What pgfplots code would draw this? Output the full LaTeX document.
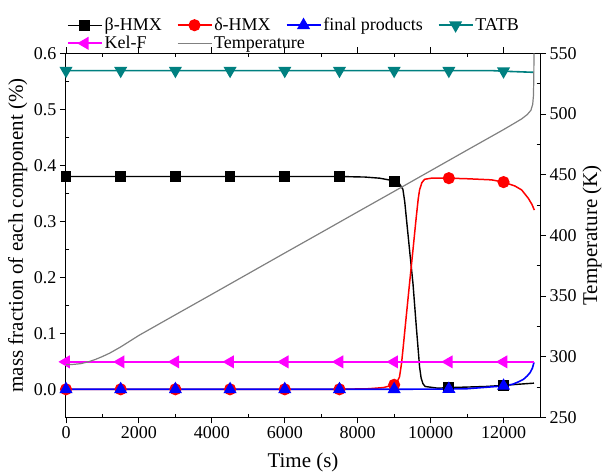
\documentclass[border=0pt]{standalone}
\usepackage{fontspec}
\setmainfont{Liberation Serif}
\usepackage{pgfplots}
\pgfplotsset{compat=1.18}
\definecolor{tatb}{RGB}{0,128,128}
\definecolor{kelf}{RGB}{255,0,255}
\definecolor{tgray}{RGB}{128,128,128}

\pgfplotsset{
  common/.style={
    scale only axis, width=474pt, height=364pt,
    xmin=0, xmax=13000,
    clip=false,
    tick align=outside,
    major tick length=6pt,
    minor tick length=-3.5pt,
    every tick/.style={black, line width=0.9pt},
    axis line style={line width=1pt},
    tick label style={font=\fontsize{18}{20}\selectfont},
    /pgf/number format/assume math mode=true,
    legend cell align=left,
    legend style={draw=none, fill=none, inner sep=0pt, outer sep=0pt,
      font=\fontsize{18}{21}\selectfont,
      /tikz/every even column/.append style={column sep=13pt}},
  }
}

\begin{document}
\begin{tikzpicture}
\begin{axis}[common, name=main,
  ymin=-0.05, ymax=0.6,
  xtick={0,2000,4000,6000,8000,10000,12000}, minor x tick num=1,
  scaled x ticks=false,
  ytick={0,0.1,0.2,0.3,0.4,0.5,0.6}, minor y tick num=1,
  ytick pos=left,
  xticklabel style={/pgf/number format/set thousands separator={}},
  yticklabel style={/pgf/number format/.cd, fixed, fixed zerofill, precision=1},
  xlabel={Time (s)},
  ylabel={mass fraction of each component~(\%)},
  every axis x label/.style={at={(axis description cs:0.5,-0.124)}, anchor=center, font=\fontsize{21}{24}\selectfont},
  every axis y label/.style={at={(axis description cs:-0.102,0.5)}, rotate=90, anchor=center, font=\fontsize{21}{24}\selectfont},
  legend columns=4,
  legend style={at={(axis description cs:0,1)}, anchor=south west, xshift=1pt, yshift=1pt},
  legend image code/.code={\draw[mark indices={2}] plot coordinates {(0pt,0pt) (17pt,0pt) (34pt,0pt)};},
]
% beta-HMX
\addplot[black, line width=1.4pt, mark=square*, mark size=4.7pt,
  mark indices={1,2,3,4,5,6,10,24,27}] coordinates {
  (0,0.38)(1500,0.38)(3000,0.38)(4500,0.38)(6000,0.38)(7500,0.38)
  (8200,0.379)(8600,0.377)(8850,0.374)(9000,0.371)(9146,0.367)(9240,0.357)
  (9290,0.335)(9331,0.308)(9422,0.249)(9516,0.189)(9607,0.112)(9660,0.070)
  (9697,0.040)(9740,0.020)(9790,0.010)(9850,0.005)(10200,0.002)(10500,0.003)
  (11000,0.004)(11500,0.005)(12000,0.007)(12400,0.009)(12835,0.011)
};
% delta-HMX
\addplot[red, line width=1.5pt, mark=*, mark size=5.3pt,
  mark indices={1,2,3,4,5,6,9,23,26}] coordinates {
  (0,0)(1500,0)(3000,0)(4500,0)(6000,0)(7500,0)(8300,0.001)(8700,0.003)
  (9000,0.008)(9100,0.016)(9146,0.022)(9200,0.045)(9240,0.070)(9331,0.130)
  (9422,0.189)(9516,0.249)(9607,0.308)(9660,0.340)(9697,0.356)(9760,0.369)
  (9835,0.375)(10020,0.377)(10500,0.377)(11000,0.376)(11670,0.374)(12000,0.370)
  (12313,0.363)(12497,0.356)(12680,0.341)(12780,0.330)(12845,0.320)
};
% final products
\addplot[blue, line width=1.6pt, mark=triangle*, mark size=6pt,
  mark indices={1,2,3,4,5,6,7,8,11}] coordinates {
  (0,0)(1500,0)(3000,0)(4500,0)(6000,0)(7500,0)(9000,0)(10500,0.0005)
  (11000,0.001)(11600,0.004)(12000,0.006)(12250,0.009)(12420,0.0136)
  (12550,0.018)(12652,0.024)(12730,0.030)(12790,0.0375)(12835,0.048)
};
% TATB
\addplot[tatb, line width=1.6pt, mark=triangle*, mark size=6pt,
  mark options={rotate=180}, mark indices={1,2,3,4,5,6,7,8,10}] coordinates {
  (0,0.569)(1500,0.569)(3000,0.569)(4500,0.569)(6000,0.569)(7500,0.569)
  (9000,0.569)(10500,0.569)(11700,0.569)(12000,0.568)(12835,0.566)
};
% Kel-F
\addplot[kelf, line width=1.6pt, mark=triangle*, mark size=6pt,
  mark options={rotate=90}, mark indices={1,2,3,4,5,6,7,8,9}] coordinates {
  (0,0.049)(1500,0.049)(3000,0.049)(4500,0.049)(6000,0.049)(7500,0.049)
  (9000,0.049)(10500,0.049)(12000,0.049)(12835,0.049)
};
\legend{β-HMX,δ-HMX,final products,TATB,Kel-F}
\end{axis}

\begin{axis}[common, name=second,
  axis x line=none, axis y line*=right, y axis line style={-},
  ymin=250, ymax=550,
  ytick={250,300,350,400,450,500,550}, minor y tick num=1,
  ylabel={Temperature (K)},
  every axis y label/.style={at={(axis description cs:1.11,0.5)}, rotate=90, anchor=center, font=\fontsize{21}{24}\selectfont},
  legend style={at={(axis description cs:0,1)}, anchor=south west, xshift=111pt, yshift=1pt},
  legend image code/.code={\draw plot coordinates {(0pt,0pt) (34pt,0pt)};},
]
\addplot[tgray, line width=1.2pt] coordinates {
  (0,293.5)(200,293.6)(400,294.2)(600,295.6)(800,297.6)(1000,300.1)(1200,302.9)
  (1500,308.0)(2000,317.5)(3000,334.5)(4000,351.4)(5000,368.4)(6000,385.4)
  (7000,402.3)(8000,419.3)(9000,436.2)(10000,453.2)(11000,470.2)(12000,487.1)
  (12300,492.4)(12500,496.0)(12650,499.5)(12750,503)(12800,508)(12820,515)
  (12830,530)(12835,550)
};
\legend{Temperature}
\end{axis}
\pgfresetboundingbox
\path[use as bounding box] ([xshift=-66pt,yshift=-57.7pt]main.south west) rectangle ([xshift=64pt,yshift=53.3pt]main.north east);
\end{tikzpicture}
\end{document}
